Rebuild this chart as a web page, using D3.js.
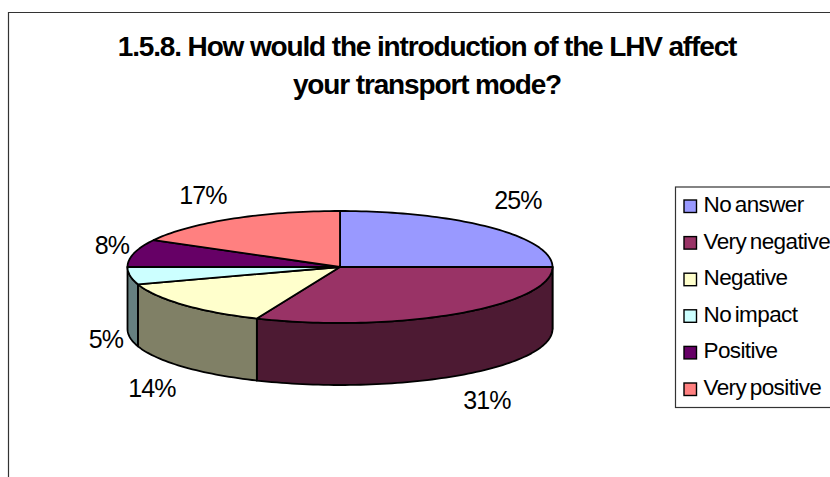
<!DOCTYPE html>
<html><head><meta charset="utf-8"><script src="https://cdn.jsdelivr.net/npm/d3@7"></script>
<style>html,body{margin:0;padding:0;background:#fff}svg{display:block}text{font-family:"Liberation Sans",Arial,sans-serif;fill:#000}</style>
</head><body><div id="c"></div>
<script>
const titleLines = ["1.5.8. How would the introduction of the LHV affect", "your transport mode?"];
const categories = ["No answer", "Very negative", "Negative", "No impact", "Positive", "Very positive"];
const values = [25, 31.4, 13.6, 5, 8, 17];
const topColors = ["#9999ff", "#993366", "#ffffcc", "#ccffff", "#660066", "#ff8080"];
const sideColors = ["#4d4d80", "#4d1a33", "#808066", "#668080", "#330033", "#804040"];
const labelAnchors = [[518, 201], [487, 401], [152, 389], [106, 340], [112, 246], [203, 196]];

const W = 830, H = 477, cx = 340, cy = 267, rx = 212.5, ry = 56, depth = 62;
const svg = d3.select("#c").append("svg").attr("width", W).attr("height", H);

svg.append("path").attr("d", `M8.5,${H}V12.5H${W}`).attr("fill", "none").attr("stroke", "#333").attr("stroke-width", 1.2);

const t = svg.append("g");
titleLines.forEach((s, i) => t.append("text").attr("x", 427).attr("y", 56 + i * 38)
  .attr("text-anchor", "middle").attr("font-weight", "bold").attr("font-size", 28)
  .attr("letter-spacing", -1.14).text(s));

const px = d3.scaleLinear().domain([-1, 1]).range([cx - rx, cx + rx]);
const py = d3.scaleLinear().domain([-1, 1]).range([cy - ry, cy + ry]);
const pie = d3.pie().sort(null).value(d => d);
const arcs = pie(values);
const pt = a => [px(Math.sin(a)), py(-Math.cos(a))];
const samples = (a0, a1) => { const n = Math.max(2, Math.ceil((a1 - a0) * 40)); return d3.range(n + 1).map(i => a0 + (a1 - a0) * i / n); };
const line = d3.line();

// outer wall, visible only on the front half of the rim
arcs.forEach((d, i) => {
  const a0 = Math.max(d.startAngle, Math.PI / 2), a1 = Math.min(d.endAngle, 3 * Math.PI / 2);
  if (a1 <= a0) return;
  const upper = samples(a0, a1).map(pt);
  const lower = upper.map(p => [p[0], p[1] + depth]).reverse();
  svg.append("path").attr("d", line(upper.concat(lower)) + "Z")
    .attr("fill", sideColors[i]).attr("stroke", "#000").attr("stroke-width", 1.8).attr("stroke-linejoin", "round");
});
// top face
arcs.forEach((d, i) => {
  svg.append("path").attr("d", line([[cx, cy]].concat(samples(d.startAngle, d.endAngle).map(pt))) + "Z")
    .attr("fill", topColors[i]).attr("stroke", "#000").attr("stroke-width", 1.8).attr("stroke-linejoin", "round");
});
// percentage labels
arcs.forEach((d, i) => {
  svg.append("text").attr("x", labelAnchors[i][0]).attr("y", labelAnchors[i][1] + 8)
    .attr("text-anchor", "middle").attr("font-size", 25).attr("letter-spacing", -0.9)
    .text(d3.format(".0f")(d.data) + "%");
});
// legend
svg.append("rect").attr("x", 675.5).attr("y", 187).attr("width", 170).attr("height", 220.5)
  .attr("fill", "#fff").attr("stroke", "#333").attr("stroke-width", 1.2);
const ly = d3.scalePoint().domain(categories).range([206, 389]);
categories.forEach((c, i) => {
  svg.append("rect").attr("x", 684).attr("y", ly(c) - 6).attr("width", 12.5).attr("height", 12.5)
    .attr("fill", topColors[i]).attr("stroke", "#000").attr("stroke-width", 1.4);
  svg.append("text").attr("x", 703.5).attr("y", ly(c) + 6).attr("font-size", 22.5)
    .attr("letter-spacing", -0.6).attr("word-spacing", -2).text(c);
});
</script></body></html>
